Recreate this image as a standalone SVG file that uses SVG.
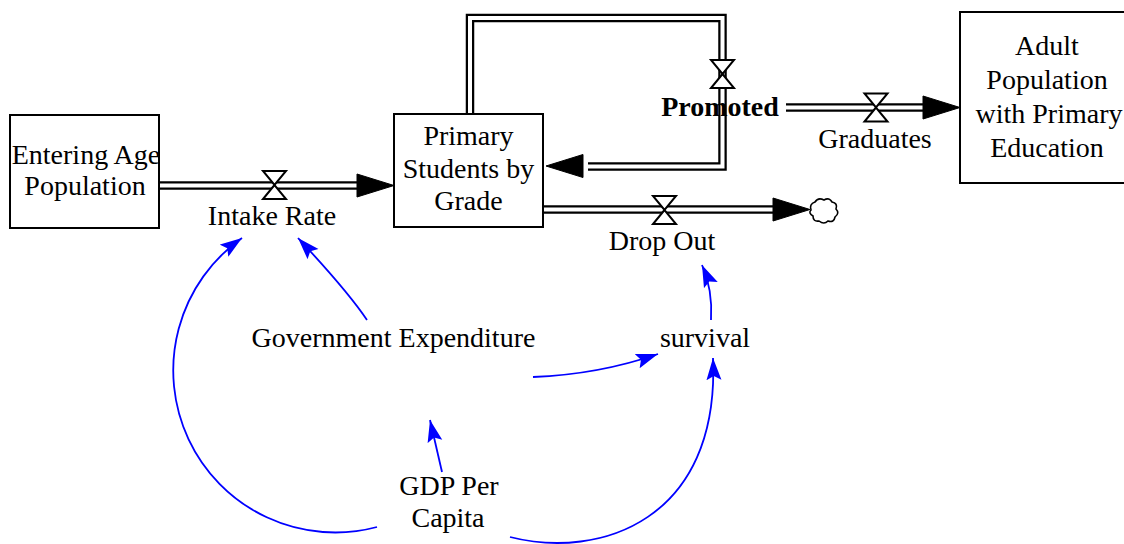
<svg xmlns="http://www.w3.org/2000/svg" xmlns:xlink="http://www.w3.org/1999/xlink" width="1124" height="544" viewBox="0 0 1124 544">
<style>
  text { font-family: "Liberation Serif", Tinos, "Times New Roman", "DejaVu Serif", serif; font-size: 28px; fill: #000; text-anchor: middle; }
  .bold { font-weight: bold; }
  .stock { fill: #fff; stroke: #000; stroke-width: 2; }
  .pipeO { fill: none; stroke: #000; stroke-width: 8.5; stroke-linejoin: miter; }
  .pipeI { fill: none; stroke: #fff; stroke-width: 4; stroke-linejoin: miter; }
  .link { fill: none; stroke: #0000ff; stroke-width: 1.8; marker-end: url(#blueHead); }
  .valve { fill: #fff; stroke: #000; stroke-width: 2; stroke-linejoin: miter; }
  .flowHead { fill: #000; stroke: #000; stroke-width: 1; }
  .cloud { fill: #fff; stroke: #000; stroke-width: 1.6; }
</style>
<defs>
  <marker id="blueHead" markerUnits="userSpaceOnUse" viewBox="0 0 22 16" markerWidth="22" markerHeight="16" refX="22" refY="8" orient="auto">
    <path d="M0,0.5 L22,8 L0,15.5 L4,8 Z" fill="#0000ff"/>
  </marker>
  <g id="valve">
    <path class="valve" d="M-11.5,-14 L11.5,-14 L0,0 Z M0,0 L-11.5,14 L11.5,14 Z"/>
  </g>
  <path id="fhead" class="flowHead" d="M0,0 L-37,-11.5 L-37,11.5 Z"/>
</defs>
<rect x="0" y="0" width="1124" height="544" fill="#fff"/>

<g id="connectors">
  <!-- Intake Rate pipe -->
  <path class="pipeO" d="M159,185.5 H360"/>
  <path class="pipeI" d="M155,185.5 H360"/>
  <use xlink:href="#fhead" href="#fhead" transform="translate(394,185.5)"/>
  <!-- Promoted loop pipe -->
  <path class="pipeO" d="M470,115 V18 H722.5 V166.5 H588"/>
  <path class="pipeI" d="M470,118 V18 H722.5 V166.5 H588"/>
  <use xlink:href="#fhead" href="#fhead" transform="translate(546,166) rotate(180)"/>
  <!-- Graduates pipe -->
  <path class="pipeO" d="M786,107.5 H925"/>
  <path class="pipeI" d="M786,107.5 H925"/>
  <use xlink:href="#fhead" href="#fhead" transform="translate(960,107.5)"/>
  <!-- Drop Out pipe -->
  <path class="pipeO" d="M543,209.5 H775"/>
  <path class="pipeI" d="M540,209.5 H775"/>
  <use xlink:href="#fhead" href="#fhead" transform="translate(810,209.5)"/>

  <!-- Information links -->
  <path class="link" d="M377,527 A162,162 0 0 1 242,238"/>
  <path class="link" d="M367,320 Q347.5,291 298,238"/>
  <path class="link" d="M533,377 Q598.5,374.5 658,354"/>
  <path class="link" d="M711,320 Q713,290 702,265"/>
  <path class="link" d="M442,472 L430,420"/>
  <path class="link" d="M510,537 C600,560 720,520 713,358"/>
</g>

<g id="entering_age_population">
  <rect class="stock" x="10" y="115" width="149" height="113"/>
  <text x="86" y="164">Entering Age</text>
  <text x="85" y="195">Population</text>
</g>

<g id="intake_rate">
  <use xlink:href="#valve" href="#valve" transform="translate(274.5,185)"/>
  <text x="272" y="225">Intake Rate</text>
</g>

<g id="primary_students_by_grade">
  <rect class="stock" x="394" y="114" width="149" height="113"/>
  <text x="468.5" y="145">Primary</text>
  <text x="468.5" y="178">Students by</text>
  <text x="468.5" y="210">Grade</text>
</g>

<g id="promoted">
  <use xlink:href="#valve" href="#valve" transform="translate(722.5,74)"/>
  <text class="bold" x="720" y="116">Promoted</text>
</g>

<g id="graduates">
  <use xlink:href="#valve" href="#valve" transform="translate(876,107.5)"/>
  <text x="875" y="148">Graduates</text>
</g>

<g id="adult_population_with_primary_education">
  <rect class="stock" x="960" y="12" width="174" height="171"/>
  <text x="1047" y="55">Adult</text>
  <text x="1047" y="89">Population</text>
  <text x="1049" y="123">with Primary</text>
  <text x="1047" y="157">Education</text>
</g>

<g id="drop_out">
  <use xlink:href="#valve" href="#valve" transform="translate(664.5,210)"/>
  <text x="662" y="250">Drop Out</text>
</g>

<g id="sink_cloud">
  <path class="cloud" d="M811,210 q-2,-6 4,-8 q3,-5 9,-2 q5,-3 8,2 q6,1 4,7 q4,4 -1,8 q-1,6 -7,4 q-4,4 -9,0 q-6,1 -6,-5 q-5,-3 -2,-6 Z"/>
</g>

<g id="government_expenditure">
  <text x="393.5" y="347">Government Expenditure</text>
</g>

<g id="survival">
  <text x="705" y="347">survival</text>
</g>

<g id="gdp_per_capita">
  <text x="449" y="495">GDP Per</text>
  <text x="448" y="527">Capita</text>
</g>
</svg>
